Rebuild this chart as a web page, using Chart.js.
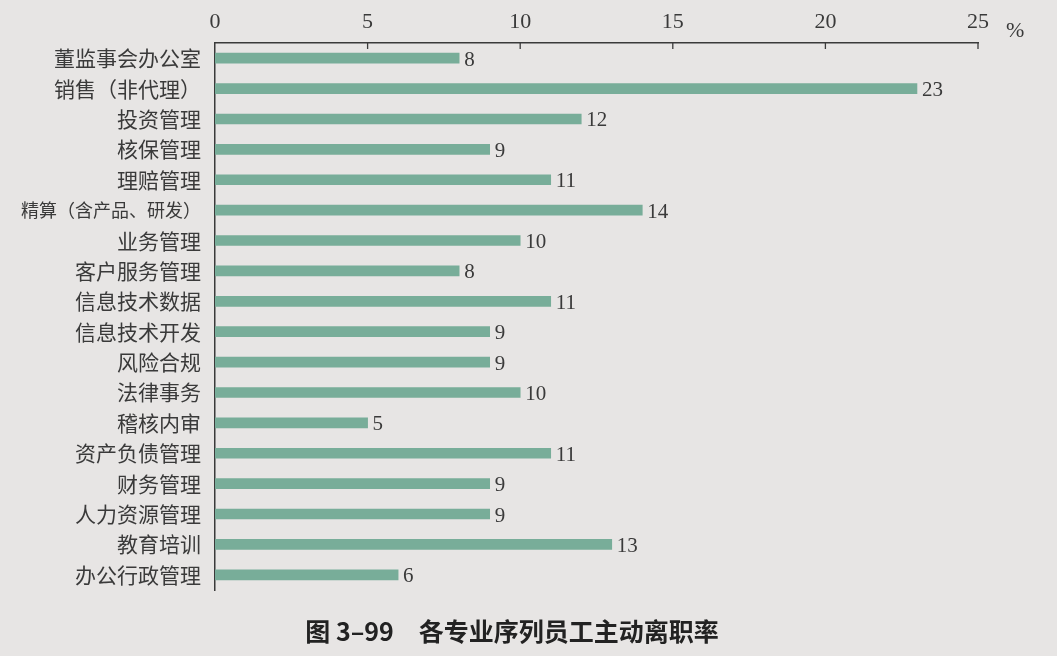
<!DOCTYPE html>
<html>
<head>
<meta charset="utf-8">
<script src="https://cdn.jsdelivr.net/npm/chart.js@4/dist/chart.umd.min.js"></script>
<style>
  html, body { margin: 0; padding: 0; background: #e7e5e4; }
  #wrap { width: 1057px; height: 656px; position: relative; }
  #title {
    position: absolute; left: 0; top: 612px; width: 1024px;
    text-align: center; color: #222;
    font: bold 25px 'Noto Sans CJK SC', 'Noto Sans', sans-serif;
  }
</style>
</head>
<body>
<div id="wrap">
  <canvas id="c" width="1057" height="656"></canvas>
  <div id="title"></div>
</div>
<script>
// 各专业序列员工主动离职率（%）
const categories = [
    '董监事会办公室', '销售（非代理）', '投资管理', '核保管理', '理赔管理',
    '精算（含产品、研发）', '业务管理', '客户服务管理', '信息技术数据', '信息技术开发',
    '风险合规', '法律事务', '稽核内审', '资产负债管理', '财务管理',
    '人力资源管理', '教育培训', '办公行政管理'
];
const rates = [8, 23, 12, 9, 11, 14, 10, 8, 11, 9, 9, 10, 5, 11, 9, 9, 13, 6];
const xTicks = [0, 5, 10, 15, 20, 25];
const unitLabel = '%';
const chartTitle = '图 3–99　各专业序列员工主动离职率';

const ink = '#3a3a3a';
const serif = "'Liberation Serif', 'DejaVu Serif', serif";
const cjk = "'Noto Sans CJK SC', 'Noto Sans', sans-serif";

document.getElementById('title').textContent = chartTitle;

// số liệu ở cuối thanh + tick nhỏ hướng xuống + đơn vị %
const extrasPlugin = {
    id: 'extras',
    afterDatasetsDraw(chart) {
        const ctx = chart.ctx;
        const meta = chart.getDatasetMeta(0);
        ctx.save();
        ctx.fillStyle = ink;
        ctx.font = '21px ' + serif;
        ctx.textBaseline = 'middle';
        ctx.textAlign = 'left';
        meta.data.forEach((bar, i) => {
            ctx.fillText(String(rates[i]), bar.x + 5, bar.y + 2);
        });

        const xs = chart.scales.x;
        const top = chart.chartArea.top;
        ctx.strokeStyle = ink;
        ctx.lineWidth = 1.3;
        xTicks.forEach(v => {
            if (v === 0) return;
            const px = xs.getPixelForValue(v);
            ctx.beginPath();
            ctx.moveTo(px, top);
            ctx.lineTo(px, top + 6);
            ctx.stroke();
        });

        ctx.font = '22px ' + serif;
        ctx.fillText(unitLabel, xs.getPixelForValue(25) + 28, 31);
        ctx.restore();
    }
};

new Chart(document.getElementById('c'), {
    type: 'bar',
    data: {
        labels: categories,
        datasets: [{
            data: rates,
            backgroundColor: '#78ad99',
            barThickness: 10
        }]
    },
    options: {
        indexAxis: 'y',
        responsive: false,
        animation: false,
        layout: { padding: { left: 0, right: 79, top: 0, bottom: 66 } },
        plugins: {
            legend: { display: false },
            tooltip: { enabled: false },
            title: { display: false }
        },
        scales: {
            x: {
                position: 'top',
                min: 0,
                max: 25,
                afterBuildTicks: scale => { scale.ticks = xTicks.map(v => ({ value: v })); },
                afterFit: scale => { scale.height = 43; },
                grid: { display: false },
                border: { display: true, color: ink, width: 1.5 },
                ticks: {
                    color: ink,
                    padding: 0,
                    font: { family: serif, size: 22 }
                }
            },
            y: {
                afterFit: scale => { scale.width = 215; },
                grid: { display: false },
                border: { display: true, color: ink, width: 1.5 },
                ticks: {
                    color: ink,
                    padding: 6,
                    autoSkip: false,
                    font: ctx => ({
                        family: cjk,
                        size: (ctx.tick && String(ctx.tick.label).length > 8) ? 18 : 21
                    })
                }
            }
        }
    },
    plugins: [extrasPlugin]
});
</script>
</body>
</html>
